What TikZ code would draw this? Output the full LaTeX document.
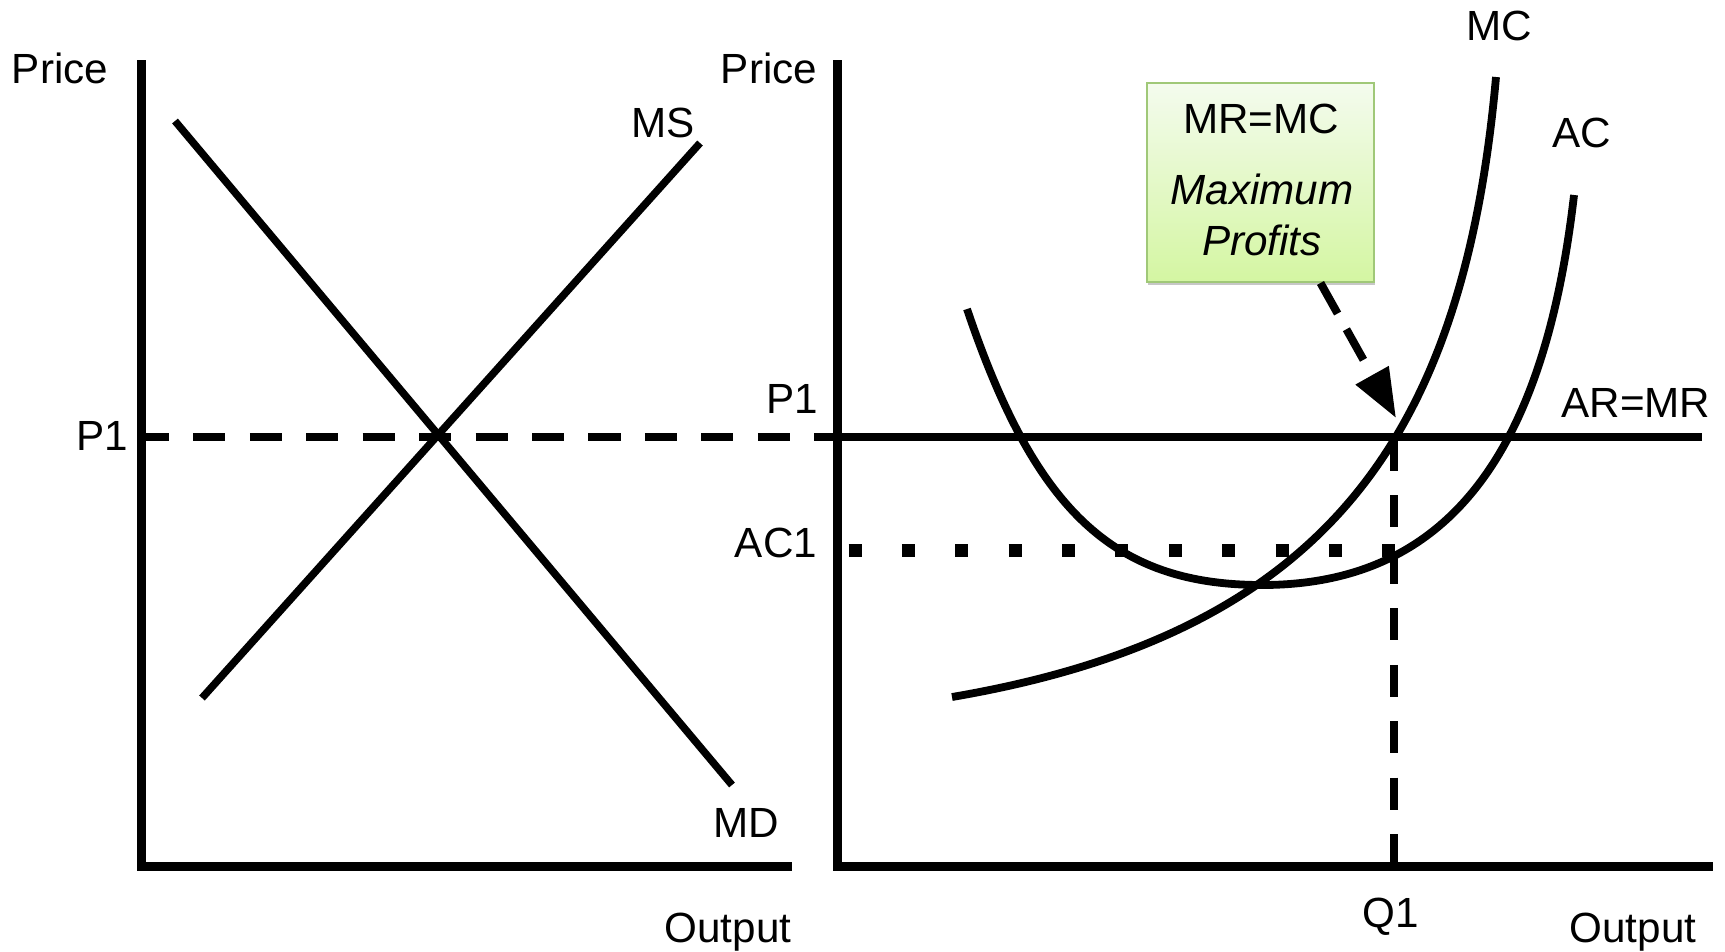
\documentclass[tikz,border=0pt]{standalone}
\usepackage{fontspec}
\setmainfont{Liberation Sans}
\usetikzlibrary{arrows.meta,shadows,calc}
\definecolor{boxtop}{RGB}{244,251,238}
\definecolor{boxbot}{RGB}{212,246,162}
\definecolor{boxborder}{RGB}{160,200,120}
\begin{document}
\begin{tikzpicture}[x=0.01cm,y=-0.01cm,
  lbl/.style={inner sep=0pt, anchor=base, font=\fontsize{12pt}{14pt}\selectfont},
  axisline/.style={line width=0.09cm},
  curveline/.style={line width=0.078cm, line join=round},
  straightline/.style={line width=0.075cm},
  pdash/.style={line width=0.083cm, dash pattern=on 0.32cm off 0.244cm},
  dotline/.style={line width=0.13cm, dash pattern=on 0.13cm off 0.4035cm},
  arrowline/.style={line width=0.08cm, dash pattern=on 0.35cm off 0.18cm, -{Triangle[length=0.49cm,width=0.36cm]}},
  notebox/.style={draw=boxborder, line width=0.018cm, top color=boxtop, bottom color=boxbot,
    minimum width=2.27cm, minimum height=1.99cm, inner sep=0pt,
    drop shadow={shadow xshift=0.012cm, shadow yshift=-0.03cm, opacity=0.22, fill=black}}
]
\useasboundingbox (0,0) rectangle (1725,951);

% ---------- coordinates ----------
\coordinate (lyTop) at (141.5,60);
\coordinate (lyBot) at (141.5,870);
\coordinate (lxL) at (137,866);
\coordinate (lxR) at (792,866);
\coordinate (ryTop) at (837.5,60);
\coordinate (ryBot) at (837.5,870);
\coordinate (rxL) at (833,866);
\coordinate (rxR) at (1713,866);
\coordinate (msA) at (202,698);
\coordinate (msB) at (700,143);
\coordinate (mdA) at (175,121);
\coordinate (mdB) at (732,785);
\coordinate (p1L) at (137,437);
\coordinate (p1R) at (833,437);
\coordinate (armrL) at (837.5,437);
\coordinate (armrR) at (1702,437);
\coordinate (q1Top) at (1394,439);
\coordinate (q1Bot) at (1394,866);
\coordinate (ac1L) at (848.5,550);
\coordinate (ac1R) at (1395,550);
\coordinate (tip) at (1396,418);

% ---------- axes ----------
\draw[axisline] (lyTop) -- (lyBot);
\draw[axisline] (lxL) -- (lxR);
\draw[axisline] (ryTop) -- (ryBot);
\draw[axisline] (rxL) -- (rxR);

% ---------- left panel ----------
\draw[pdash] (p1L) -- (p1R);
\draw[straightline] (msA) -- (msB);
\draw[straightline] (mdA) -- (mdB);

% ---------- right panel ----------
\draw[line width=0.083cm] (armrL) -- (armrR);
\draw[pdash] (q1Top) -- (q1Bot);
\draw[dotline] (ac1L) -- (ac1R);

% MC curve
\draw[curveline] (952,697) .. controls (1327,633) and (1463.6,437) .. (1496,77);
% AC curve
\draw[curveline] (967,309) .. controls (1034.6,509) and (1112,585) .. (1262,585)
  .. controls (1447,585) and (1544,455) .. (1574,195);

% ---------- note box and arrow ----------
\node[notebox] (box) at (1260.5,182.5) {};
\draw[arrowline] ($(box.south west)!0.762!(box.south east)$) -- (tip);

\node[lbl] (boxt1) at (1261,133) {MR=MC};
\node[lbl, font=\fontsize{12pt}{14pt}\selectfont\itshape] (boxt2) at (1262,204) {Maximum};
\node[lbl, font=\fontsize{12pt}{14pt}\selectfont\itshape] (boxt3) at (1262,255) {Profits};

% ---------- labels ----------
\node[lbl] (priceL) at (60,83) {Price};
\node[lbl] (priceR) at (769,83) {Price};
\node[lbl] (p1Llbl) at (102,450) {P1};
\node[lbl] (p1Rlbl) at (792,413) {P1};
\node[lbl] (ac1lbl) at (776,557) {AC1};
\node[lbl] (mslbl) at (663,137) {MS};
\node[lbl] (mdlbl) at (746,837) {MD};
\node[lbl] (outL) at (728,942) {Output};
\node[lbl] (outR) at (1633,942) {Output};
\node[lbl] (q1lbl) at (1391,927) {Q1};
\node[lbl] (mclbl) at (1499,40) {MC};
\node[lbl] (aclbl) at (1582,147) {AC};
\node[lbl] (armrlbl) at (1636,417) {AR=MR};
\end{tikzpicture}
\end{document}
